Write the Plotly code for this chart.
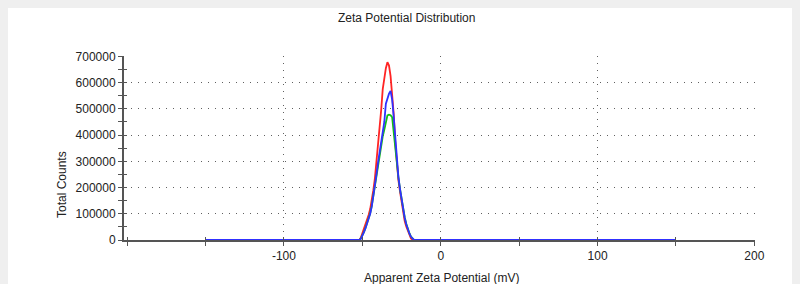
import plotly.graph_objects as go

# ---- data ----
zeta_mv = [-150,
           -52, -51, -50, -49, -48, -47, -46, -45, -44, -43, -42, -41, -40, -39, -38, -37, -36, -35,
           -34, -33, -32, -31, -30, -29, -28, -27, -26, -25, -24, -23, -22, -21, -20, -19, -18, -17,
           150]

counts_red = [0,
              0, 8000, 24000, 40000, 58000, 75000, 95000, 118000, 148000, 190000, 235000, 295000,
              355000, 420000, 495000, 575000, 625000, 655000,
              678000, 665000, 625000, 560000, 480000, 370000, 290000, 228000, 185000, 145000,
              108000, 72000, 52000, 35000, 18000, 6000, 0, 0,
              0]

counts_green = [0,
                0, 5000, 16000, 30000, 46000, 63000, 82000, 102000, 130000, 168000, 212000, 250000,
                290000, 330000, 365000, 395000, 420000, 455000,
                475000, 478000, 476000, 468000, 410000, 340000, 290000, 238000, 195000, 156000,
                120000, 87000, 62000, 42000, 26000, 13000, 4000, 0,
                0]

counts_blue = [0,
               0, 4000, 15000, 30000, 45000, 62000, 80000, 100000, 128000, 165000, 210000, 250000,
               295000, 335000, 365000, 400000, 450000, 520000,
               545000, 558000, 568000, 535000, 470000, 380000, 300000, 240000, 195000, 155000,
               118000, 85000, 60000, 40000, 25000, 12000, 4000, 0,
               0]

x_tick_vals = [-100, 0, 100, 200]
x_tick_text = ["-100", "0", "100", "200"]

title_text = "Zeta Potential Distribution"
x_title = "Apparent Zeta Potential (mV)"
y_title = "Total Counts"

FONT = "Liberation Sans, Arial, sans-serif"
AX = "#555555"
GRID = "#606060"

fig = go.Figure()
for ys, col in [(counts_red, "#ff2424"), (counts_green, "#14c014"), (counts_blue, "#3030ff")]:
    fig.add_trace(go.Scatter(x=zeta_mv, y=ys, mode="lines",
                             line=dict(color=col, width=1.8), showlegend=False,
                             hoverinfo="skip", cliponaxis=False))
# invisible trace to carry the overlay axes (inner half of crossing ticks)
fig.add_trace(go.Scatter(x=[0], y=[0], xaxis="x2", yaxis="y2", mode="markers",
                         marker=dict(opacity=0), showlegend=False, hoverinfo="skip"))

# the page body has an 8px margin; figure sits at (8, 8) in the window
W, H = 792, 276
L, R, T, B = 116, 45, 48, 44
pw, ph = W - L - R, H - T - B

def px(xp):
    return (xp - L) / pw

def py(yp):
    return (H - B - yp) / ph

XR = [-202, 200.4]
YR = [0, 701500]

fig.update_layout(
    width=W, height=H,
    margin=dict(l=L, r=R, t=T, b=B, pad=0),
    paper_bgcolor="white", plot_bgcolor="white",
    font=dict(family=FONT, size=12, color="#222222"),
    xaxis=dict(range=XR, tickvals=x_tick_vals, ticktext=x_tick_text, layer="below traces",
               showgrid=True, gridcolor=GRID, gridwidth=1, griddash="1px,6px",
               showline=True, linecolor=AX, linewidth=2, zeroline=False,
               ticks="outside", ticklen=4, tickwidth=1, tickcolor=AX,
               minor=dict(dtick=50, tick0=0, ticks="outside", ticklen=4, tickcolor=AX, showgrid=False),
               tickfont=dict(size=12)),
    yaxis=dict(range=YR, dtick=100000, tick0=0, tickformat="d", layer="below traces",
               showgrid=True, gridcolor=GRID, gridwidth=1, griddash="1px,6px",
               showline=True, linecolor=AX, linewidth=2, zeroline=False,
               ticks="outside", ticklen=4, tickwidth=1, tickcolor=AX,
               minor=dict(dtick=50000, tick0=0, ticks="outside", ticklen=4, tickcolor=AX, showgrid=False),
               tickfont=dict(size=12)),
    xaxis2=dict(overlaying="x", anchor="y", side="bottom", range=XR,
                tickvals=x_tick_vals, showticklabels=False, showgrid=False, showline=False,
                zeroline=False, ticks="inside", ticklen=3, tickcolor=AX,
                minor=dict(dtick=50, tick0=0, ticks="inside", ticklen=3, tickcolor=AX, showgrid=False)),
    yaxis2=dict(overlaying="y", anchor="x", side="left", range=YR, dtick=100000,
                showticklabels=False, showgrid=False, showline=False, zeroline=False,
                ticks="inside", ticklen=3, tickcolor=AX,
                minor=dict(dtick=50000, tick0=0, ticks="inside", ticklen=3, tickcolor=AX, showgrid=False)),
    annotations=[
        dict(text=title_text, xref="paper", yref="paper", x=px(398), y=py(10),
             xanchor="center", yanchor="middle", showarrow=False, font=dict(size=12)),
        dict(text=y_title, xref="paper", yref="paper", x=px(54), y=py(177),
             xanchor="center", yanchor="middle", textangle=-90, showarrow=False, font=dict(size=12)),
        dict(text=x_title, xref="paper", yref="paper", x=px(433), y=py(261),
             xanchor="center", yanchor="top", showarrow=False, font=dict(size=12)),
    ],
)

fig.write_html("out.html",
               post_script="document.body.style.background='#efefef';")
